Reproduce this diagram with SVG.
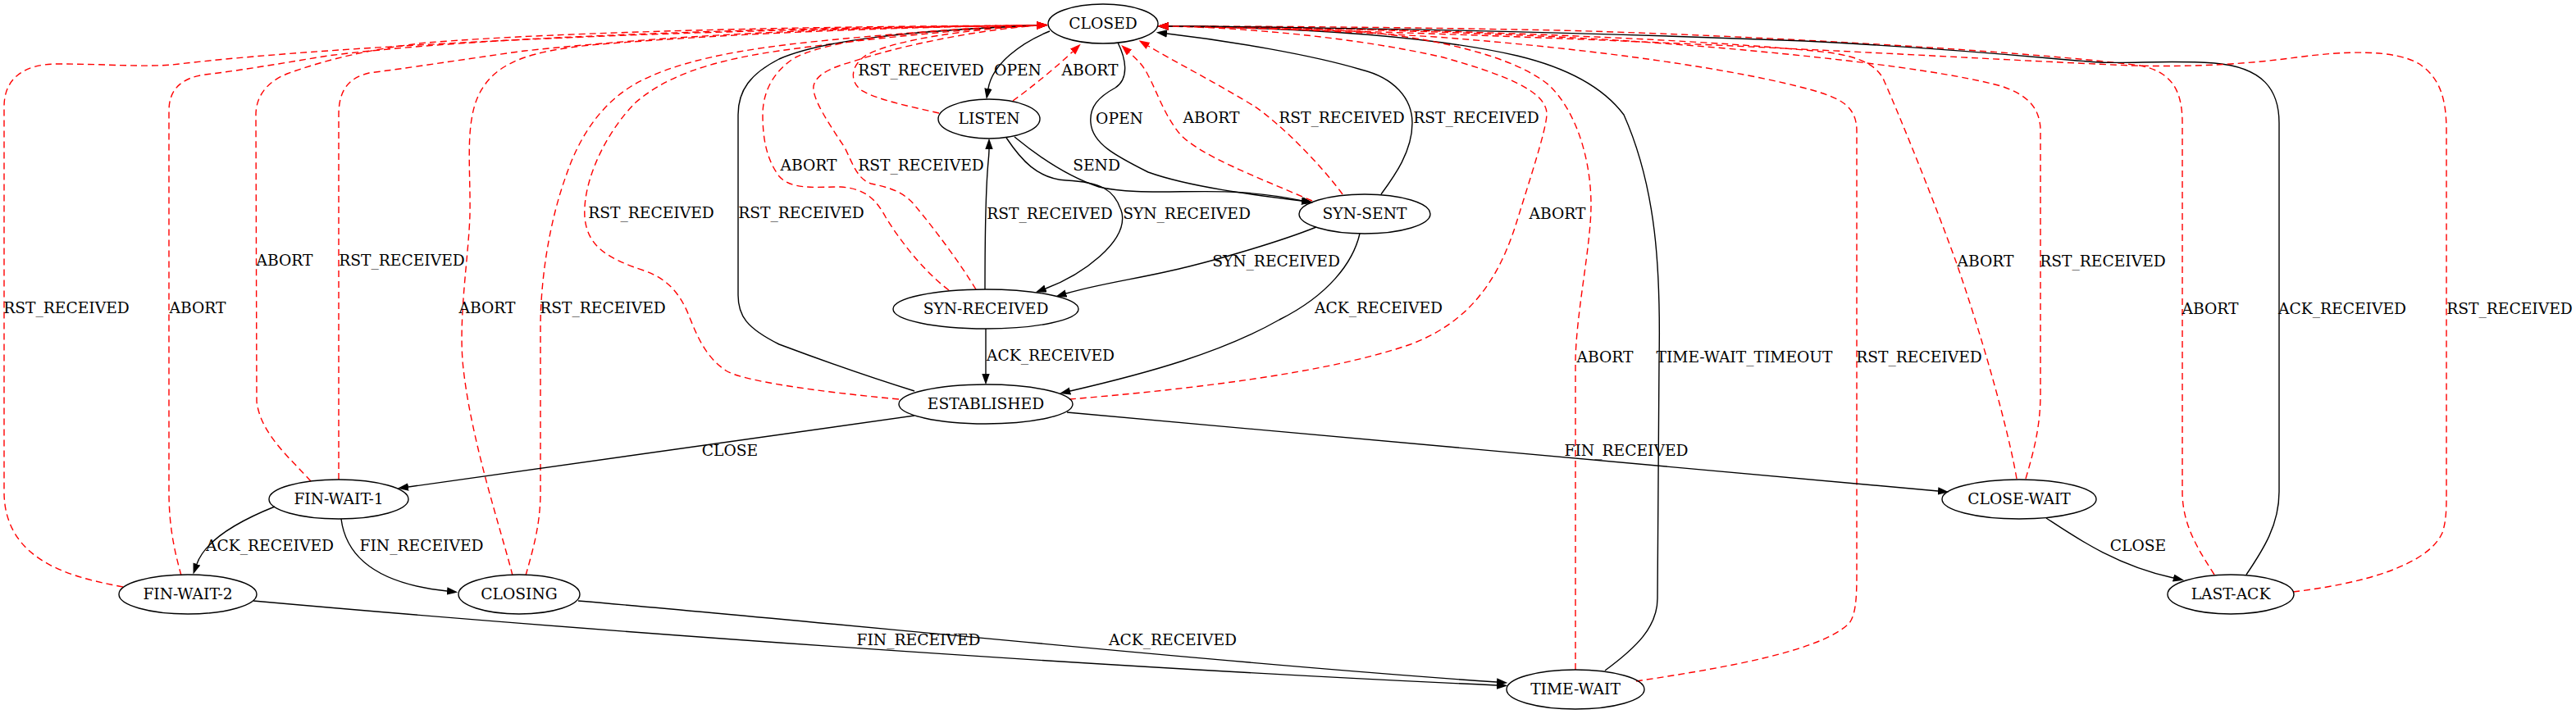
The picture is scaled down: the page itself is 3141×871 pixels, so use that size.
<svg xmlns="http://www.w3.org/2000/svg" width="3141" height="871" viewBox="0 0 3141 871">
<style>
text{font-family:"DejaVu Serif","Liberation Serif",serif;font-size:18.67px;text-anchor:middle;fill:#000}
.n ellipse{fill:none;stroke:#000;stroke-width:1.4}
.b{fill:none;stroke:#000;stroke-width:1.4;marker-end:url(#ab)}
.r{fill:none;stroke:#f00;stroke-width:1.4;stroke-dasharray:8,5;marker-end:url(#ar)}
</style>
<defs>
<marker id="ab" markerWidth="14" markerHeight="10" refX="0" refY="4.7" orient="auto" markerUnits="userSpaceOnUse"><path d="M0,0 L13.3,4.7 L0,9.4z" fill="#000"/></marker>
<marker id="ar" markerWidth="14" markerHeight="10" refX="0" refY="4.7" orient="auto" markerUnits="userSpaceOnUse"><path d="M0,0 L13.3,4.7 L0,9.4z" fill="#f00"/></marker>
</defs>
<rect width="3141" height="871" fill="#fff"/>
<g id="edges">
<path class="r" d="M150,716 C100,706 5,690 5,600 L5,130 C5,95 30,78 70,78 C130,78 170,82 210,79 C350,62 700,38 1264,31"/>
<text x="81" y="382">RST_RECEIVED</text>
<path class="r" d="M221,702 C212,670 206,640 206,600 L206,135 C206,110 220,95 250,91 C300,85 350,76 400,68 C600,42 1000,33 1264,31"/>
<text x="241" y="382">ABORT</text>
<path class="r" d="M379,587 C355,560 318,530 313,490 L312,140 C312,118 325,100 350,90 C400,72 450,60 520,52 C700,38 1000,32 1264,31"/>
<text x="347" y="324">ABORT</text>
<path class="r" d="M413,585 L413,140 C413,110 425,95 450,89 C520,80 580,70 640,62 C800,45 1000,33 1264,31"/>
<text x="490" y="324">RST_RECEIVED</text>
<path class="r" d="M625,702 C612,650 575,540 565,450 C558,390 572,310 573,260 C574,200 565,140 590,105 C610,75 650,62 720,55 C900,40 1100,33 1264,31"/>
<text x="594" y="382">ABORT</text>
<path class="r" d="M641,702 C650,670 659,640 659,600 L659,400 C659,340 670,270 690,215 C705,170 730,130 770,105 C820,75 900,60 1000,50 C1100,40 1200,33 1264,31"/>
<text x="735" y="382">RST_RECEIVED</text>
<path class="r" d="M1096,487 C1000,478 905,465 885,452 C860,435 850,410 840,385 C830,360 815,340 785,330 C740,315 716,300 713,265 C710,220 740,160 775,125 C810,95 860,75 950,62 C1050,48 1180,35 1264,31"/>
<text x="794" y="266">RST_RECEIVED</text>
<path class="b" d="M1115,477 C1060,460 990,435 950,420 C910,400 900,385 900,360 L900,140 C900,110 915,90 950,72 C1000,50 1100,38 1264,31"/>
<text x="977" y="266">RST_RECEIVED</text>
<path class="r" d="M1157,354 C1125,330 1095,290 1080,265 C1068,243 1055,230 1025,228 C995,228 965,232 950,215 C935,195 930,170 930,140 C930,110 945,85 970,70 C1020,45 1150,35 1264,31"/>
<text x="986" y="208">ABORT</text>
<path class="r" d="M1190,353 C1170,320 1140,280 1115,250 C1100,232 1080,228 1062,224 C1045,218 1040,200 1030,180 C1010,150 990,120 992,105 C995,90 1015,82 1040,75 C1090,58 1180,38 1264,31"/>
<text x="1123" y="208">RST_RECEIVED</text>
<path class="r" d="M1145,138 C1110,130 1070,122 1050,110 C1035,98 1038,80 1055,68 C1090,48 1180,36 1264,31"/>
<text x="1123" y="92">RST_RECEIVED</text>
<path class="b" d="M1280,38 C1245,52 1210,78 1205,108"/>
<text x="1241" y="92">OPEN</text>
<path class="r" d="M1235,123 C1260,105 1290,80 1308,63"/>
<text x="1329" y="92">ABORT</text>
<path class="b" d="M1363,52 C1372,70 1378,95 1360,107 C1340,118 1328,130 1330,150 C1332,175 1360,190 1400,210 C1450,228 1530,238 1587,245"/>
<text x="1365" y="151">OPEN</text>
<path class="b" d="M1237,167 C1265,190 1300,215 1340,228 C1380,238 1440,232 1500,234 C1540,236 1565,240 1588,245"/>
<text x="1337" y="208">SEND</text>
<path class="b" d="M1227,168 C1245,195 1265,218 1300,220 C1340,222 1360,230 1368,260 C1375,295 1320,335 1275,352"/>
<text x="1447" y="267">SYN_RECEIVED</text>
<path class="b" d="M1605,277 C1560,295 1490,315 1450,325 C1400,338 1340,346 1300,358"/>
<text x="1556" y="325">SYN_RECEIVED</text>
<path class="b" d="M1658,285 C1650,320 1620,360 1560,390 C1490,430 1400,455 1305,477"/>
<text x="1681" y="382">ACK_RECEIVED</text>
<path class="b" d="M1202,401 L1202,456"/>
<text x="1281" y="440">ACK_RECEIVED</text>
<path class="b" d="M1201,353 C1201,300 1202,240 1204,210 C1205,195 1206,190 1206,182"/>
<text x="1280" y="267">RST_RECEIVED</text>
<path class="r" d="M1600,245 C1530,215 1465,190 1440,165 C1420,142 1410,110 1400,92 C1394,80 1388,74 1377,64"/>
<text x="1477" y="150">ABORT</text>
<path class="r" d="M1637,237 C1610,200 1560,150 1530,130 C1490,105 1430,74 1400,56"/>
<text x="1636" y="150">RST_RECEIVED</text>
<path class="b" d="M1684,237 C1700,215 1722,185 1722,150 C1722,120 1700,95 1660,85 C1600,67 1500,50 1423,41"/>
<text x="1800" y="150">RST_RECEIVED</text>
<path class="r" d="M1304,487 C1450,475 1620,455 1720,420 C1800,390 1830,330 1848,275 C1865,220 1885,160 1886,140 C1887,110 1830,90 1760,70 C1650,45 1520,34 1425,32"/>
<text x="1899" y="267">ABORT</text>
<path class="b" d="M1957,818 C1995,790 2021,765 2021,730 L2023,440 C2025,330 2020,230 1980,140 C1950,100 1900,80 1850,68 C1750,45 1600,34 1425,32"/>
<text x="2127" y="442">TIME-WAIT_TIMEOUT</text>
<path class="r" d="M1921,817 L1921,440 C1922,380 1940,300 1940,250 C1940,200 1925,140 1890,105 C1850,70 1750,45 1650,38 C1550,33 1480,32 1425,32"/>
<text x="1957" y="442">ABORT</text>
<path class="r" d="M1995,831 C2100,815 2220,795 2255,760 C2262,750 2264,735 2264,700 L2264,160 C2264,130 2245,120 2210,110 C2120,85 1950,60 1750,45 C1600,36 1500,33 1425,32"/>
<text x="2340" y="442">RST_RECEIVED</text>
<path class="r" d="M2459,584 C2450,530 2420,420 2386,322 C2360,250 2320,150 2298,100 C2290,80 2270,70 2230,64 C2050,45 1700,34 1425,32"/>
<text x="2421" y="325">ABORT</text>
<path class="r" d="M2470,584 C2480,550 2488,520 2488,480 L2488,160 C2488,130 2470,115 2440,105 C2350,80 2100,55 1900,45 C1700,36 1550,33 1425,32"/>
<text x="2564" y="325">RST_RECEIVED</text>
<path class="r" d="M2700,701 C2680,670 2661,640 2661,600 L2661,150 C2661,110 2648,88 2610,80 C2450,60 2100,42 1900,37 C1700,33 1550,32 1425,32"/>
<text x="2695" y="383">ABORT</text>
<path class="b" d="M2739,701 C2760,670 2779,640 2779,600 L2779,150 C2779,110 2760,82 2700,77 C2640,73 2600,78 2560,76 C2500,72 2400,60 2200,50 C1900,38 1600,33 1425,32"/>
<text x="2856" y="383">ACK_RECEIVED</text>
<path class="r" d="M2796,722 C2880,712 2960,690 2978,650 C2983,635 2983,620 2983,600 L2983,160 C2983,120 2975,95 2950,78 C2920,60 2860,62 2800,70 C2740,78 2680,82 2600,80 C2400,72 2000,45 1425,32"/>
<text x="3060" y="383">RST_RECEIVED</text>
<path class="b" d="M1115,507 L498,594"/>
<text x="890" y="556">CLOSE</text>
<path class="b" d="M1301,503 L2363,599"/>
<text x="1983" y="556">FIN_RECEIVED</text>
<path class="b" d="M335,618 C290,636 250,660 240,688"/>
<text x="329" y="672">ACK_RECEIVED</text>
<path class="b" d="M416,633 C422,680 460,712 545,721"/>
<text x="514" y="672">FIN_RECEIVED</text>
<path class="b" d="M309,733 C700,768 1300,812 1825,836"/>
<text x="1120" y="787">FIN_RECEIVED</text>
<path class="b" d="M705,733 C1000,758 1500,810 1825,832"/>
<text x="1430" y="787">ACK_RECEIVED</text>
<path class="b" d="M2495,632 C2530,655 2580,690 2650,705"/>
<text x="2607" y="672">CLOSE</text>
</g>
<g id="CLOSED" class="n"><ellipse cx="1345" cy="29" rx="67" ry="24"/><text x="1345" y="35">CLOSED</text></g>
<g id="LISTEN" class="n"><ellipse cx="1206" cy="145" rx="62" ry="24"/><text x="1206" y="151">LISTEN</text></g>
<g id="SYN-SENT" class="n"><ellipse cx="1664" cy="261" rx="80" ry="24"/><text x="1664" y="267">SYN-SENT</text></g>
<g id="SYN-RECEIVED" class="n"><ellipse cx="1202" cy="377" rx="113" ry="24"/><text x="1202" y="383">SYN-RECEIVED</text></g>
<g id="ESTABLISHED" class="n"><ellipse cx="1202" cy="493" rx="106" ry="24"/><text x="1202" y="499">ESTABLISHED</text></g>
<g id="FIN-WAIT-1" class="n"><ellipse cx="413" cy="609" rx="85" ry="24"/><text x="413" y="615">FIN-WAIT-1</text></g>
<g id="CLOSE-WAIT" class="n"><ellipse cx="2462" cy="609" rx="94" ry="24"/><text x="2462" y="615">CLOSE-WAIT</text></g>
<g id="FIN-WAIT-2" class="n"><ellipse cx="229" cy="725" rx="84" ry="24"/><text x="229" y="731">FIN-WAIT-2</text></g>
<g id="CLOSING" class="n"><ellipse cx="633" cy="725" rx="74" ry="24"/><text x="633" y="731">CLOSING</text></g>
<g id="LAST-ACK" class="n"><ellipse cx="2720" cy="725" rx="77" ry="24"/><text x="2720" y="731">LAST-ACK</text></g>
<g id="TIME-WAIT" class="n"><ellipse cx="1921" cy="841" rx="84" ry="24"/><text x="1921" y="847">TIME-WAIT</text></g>
</svg>
